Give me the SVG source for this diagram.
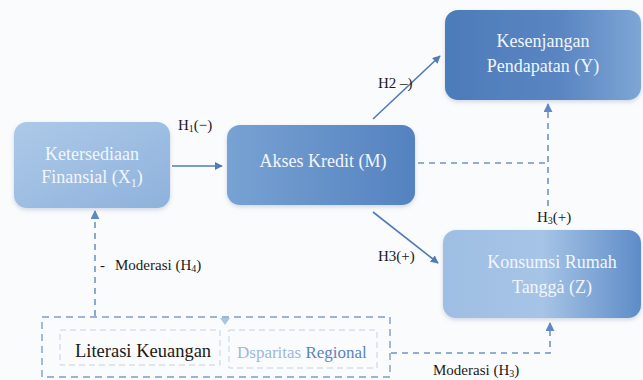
<svg xmlns="http://www.w3.org/2000/svg" width="643" height="380" viewBox="0 0 643 380">
<defs>
<linearGradient id="gX" x1="0" y1="0" x2="1" y2="1"><stop offset="0" stop-color="#adc9e8"/><stop offset="1" stop-color="#8eb2dc"/></linearGradient>
<linearGradient id="gM" x1="0" y1="0" x2="1" y2="0"><stop offset="0" stop-color="#78a2d3"/><stop offset="1" stop-color="#5482c0"/></linearGradient>
<linearGradient id="gY" x1="0" y1="0" x2="1" y2="0"><stop offset="0" stop-color="#4d7bba"/><stop offset="0.6" stop-color="#5a86c2"/><stop offset="1" stop-color="#7ea6d5"/></linearGradient>
<linearGradient id="gZ" x1="0" y1="0" x2="1" y2="0"><stop offset="0" stop-color="#9ebee3"/><stop offset="0.5" stop-color="#a6c4e6"/><stop offset="1" stop-color="#5e8cc8"/></linearGradient>
<marker id="ah" viewBox="0 0 10 10" refX="9" refY="5" markerWidth="8" markerHeight="8" orient="auto-start-reverse" markerUnits="userSpaceOnUse"><path d="M0,0 L10,5 L0,10 z" fill="#4f7cb8"/></marker>
<marker id="ahd" viewBox="0 0 10 10" refX="9" refY="5" markerWidth="9" markerHeight="9" orient="auto" markerUnits="userSpaceOnUse"><path d="M0,0 L10,5 L0,10 z" fill="#5f89c0"/></marker>
<filter id="sh" x="-10%" y="-10%" width="120%" height="130%"><feDropShadow dx="0" dy="2" stdDeviation="2" flood-color="#6a86aa" flood-opacity="0.3"/></filter>
</defs>
<style>
.node{stroke:none;filter:url(#sh)}
.nt{font-family:"Liberation Serif","DejaVu Serif",serif;font-size:18px;fill:#f2f6fb;text-anchor:middle}
.lb{font-family:"Liberation Serif","DejaVu Serif",serif;font-size:15px;fill:#1a1a1a}
.ar{stroke:#4f7cb8;stroke-width:1.6;fill:none}
.dl{stroke:#6f95c4;stroke-width:1.6;fill:none;stroke-dasharray:6 5}
.db{stroke:#7c9fcc;stroke-width:1.4;fill:none;stroke-dasharray:7 5}
.di{stroke:#c3d2e6;stroke-width:1;fill:none;stroke-dasharray:6 4}
</style>
<rect width="643" height="380" fill="#fafbfc"/>
<g id="connectors">
<line class="ar" x1="172" y1="166" x2="222" y2="166" marker-end="url(#ah)"/>
<line class="ar" x1="373" y1="119" x2="440" y2="56" marker-end="url(#ah)"/>
<line class="ar" x1="373" y1="212" x2="438" y2="263" marker-end="url(#ah)"/>
<polyline class="dl" points="418,163 548,163"/>
<line class="dl" x1="548" y1="206" x2="548" y2="104" marker-end="url(#ahd)"/>
<line class="dl" x1="95" y1="316" x2="95" y2="211" marker-end="url(#ahd)"/>
<polyline class="dl" points="391,353 550,353 550,323" marker-end="url(#ahd)"/>
</g>
<g id="moderasi">
<rect class="db" x="42" y="317" width="348" height="60"/>
<rect class="di" x="60" y="330" width="160" height="35"/>
<rect class="di" x="229" y="330" width="148" height="38"/>
<path d="M220,318 L230,318 L225,325 z" fill="#a9c3e2"/>
<text x="75" y="357" font-family="Liberation Serif, DejaVu Serif, serif" font-size="18.5" fill="#1a1a1a">Literasi Keuangan</text>
<text x="237" y="358" font-family="Liberation Serif, DejaVu Serif, serif" font-size="17"><tspan fill="#9db8dc">Dsparitas</tspan><tspan fill="#5a84bd"> Regional</tspan></text>
</g>
<g id="X1">
<rect class="node" x="14" y="122" width="156" height="86" rx="13" fill="url(#gX)"/>
<text class="nt" x="92" y="160">Ketersediaan</text>
<text class="nt" x="92" y="183">Finansial (X<tspan font-size="12" dy="4">1</tspan><tspan dy="-4">)</tspan></text>
</g>
<g id="M">
<rect class="node" x="227" y="125" width="188" height="80" rx="13" fill="url(#gM)"/>
<text class="nt" x="323" y="167">Akses Kredit (M)</text>
</g>
<g id="Y">
<rect class="node" x="445" y="10" width="196" height="90" rx="13" fill="url(#gY)"/>
<text class="nt" x="543" y="47">Kesenjangan</text>
<text class="nt" x="543" y="72">Pendapatan (Y)</text>
</g>
<g id="Z">
<rect class="node" x="443" y="230" width="198" height="88" rx="13" fill="url(#gZ)"/>
<text class="nt" x="552" y="268">Konsumsi Rumah</text>
<text class="nt" x="552" y="293">Tanggȧ (Z)</text>
</g>
<g id="labels">
<text class="lb" x="178" y="130">H<tspan font-size="10" dy="2">1</tspan><tspan dy="-2">(−)</tspan></text>
<text class="lb" x="378" y="88">H2 –)</text>
<text class="lb" x="378" y="261">H3(+)</text>
<text class="lb" x="537" y="222">H<tspan font-size="10" dy="2">3</tspan><tspan dy="-2">(+)</tspan></text>
<text class="lb" x="100" y="270">-</text>
<text class="lb" x="115" y="270">Moderasi (H<tspan font-size="10" dy="2">4</tspan><tspan dy="-2">)</tspan></text>
<text class="lb" x="433" y="375">Moderasi (H<tspan font-size="10" dy="2">3</tspan><tspan dy="-2">)</tspan></text>
</g>
</svg>
